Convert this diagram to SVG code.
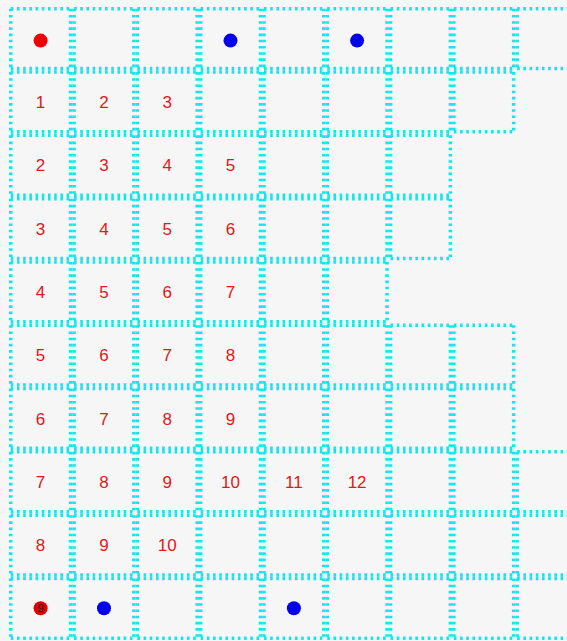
<svg xmlns="http://www.w3.org/2000/svg" xmlns:xlink="http://www.w3.org/1999/xlink" width="567" height="641" viewBox="0 0 567 641">
<style>
.cell{fill:none;stroke:#12e6ee;stroke-width:3.5;stroke-dasharray:2.6 3.6}
.num{font-family:"Liberation Sans",Arial,sans-serif;font-size:17px;fill:#e01818;text-anchor:middle}
.small{font-family:"Liberation Sans",Arial,sans-serif;font-size:11px;fill:#1a1a1a;text-anchor:middle}
</style>
<defs>
<path id="cell" class="cell" d="M1.75 1.75H61.55M1.75 61.55H61.55M1.75 1.75V61.55M61.55 1.75V61.55"/>
</defs>
<rect width="567" height="641" fill="#f6f6f6"/>
<g id="grid">
<g id="row0">
<use xlink:href="#cell" x="9" y="7"/><use xlink:href="#cell" x="72.3" y="7"/><use xlink:href="#cell" x="135.6" y="7"/><use xlink:href="#cell" x="198.9" y="7"/><use xlink:href="#cell" x="262.2" y="7"/><use xlink:href="#cell" x="325.5" y="7"/><use xlink:href="#cell" x="388.8" y="7"/><use xlink:href="#cell" x="452.1" y="7"/><use xlink:href="#cell" x="515.4" y="7"/>
</g>
<g id="row1">
<use xlink:href="#cell" x="9" y="70.3"/><use xlink:href="#cell" x="72.3" y="70.3"/><use xlink:href="#cell" x="135.6" y="70.3"/><use xlink:href="#cell" x="198.9" y="70.3"/><use xlink:href="#cell" x="262.2" y="70.3"/><use xlink:href="#cell" x="325.5" y="70.3"/><use xlink:href="#cell" x="388.8" y="70.3"/><use xlink:href="#cell" x="452.1" y="70.3"/>
</g>
<g id="row2">
<use xlink:href="#cell" x="9" y="133.6"/><use xlink:href="#cell" x="72.3" y="133.6"/><use xlink:href="#cell" x="135.6" y="133.6"/><use xlink:href="#cell" x="198.9" y="133.6"/><use xlink:href="#cell" x="262.2" y="133.6"/><use xlink:href="#cell" x="325.5" y="133.6"/><use xlink:href="#cell" x="388.8" y="133.6"/>
</g>
<g id="row3">
<use xlink:href="#cell" x="9" y="196.9"/><use xlink:href="#cell" x="72.3" y="196.9"/><use xlink:href="#cell" x="135.6" y="196.9"/><use xlink:href="#cell" x="198.9" y="196.9"/><use xlink:href="#cell" x="262.2" y="196.9"/><use xlink:href="#cell" x="325.5" y="196.9"/><use xlink:href="#cell" x="388.8" y="196.9"/>
</g>
<g id="row4">
<use xlink:href="#cell" x="9" y="260.2"/><use xlink:href="#cell" x="72.3" y="260.2"/><use xlink:href="#cell" x="135.6" y="260.2"/><use xlink:href="#cell" x="198.9" y="260.2"/><use xlink:href="#cell" x="262.2" y="260.2"/><use xlink:href="#cell" x="325.5" y="260.2"/>
</g>
<g id="row5">
<use xlink:href="#cell" x="9" y="323.5"/><use xlink:href="#cell" x="72.3" y="323.5"/><use xlink:href="#cell" x="135.6" y="323.5"/><use xlink:href="#cell" x="198.9" y="323.5"/><use xlink:href="#cell" x="262.2" y="323.5"/><use xlink:href="#cell" x="325.5" y="323.5"/><use xlink:href="#cell" x="388.8" y="323.5"/><use xlink:href="#cell" x="452.1" y="323.5"/>
</g>
<g id="row6">
<use xlink:href="#cell" x="9" y="386.8"/><use xlink:href="#cell" x="72.3" y="386.8"/><use xlink:href="#cell" x="135.6" y="386.8"/><use xlink:href="#cell" x="198.9" y="386.8"/><use xlink:href="#cell" x="262.2" y="386.8"/><use xlink:href="#cell" x="325.5" y="386.8"/><use xlink:href="#cell" x="388.8" y="386.8"/><use xlink:href="#cell" x="452.1" y="386.8"/>
</g>
<g id="row7">
<use xlink:href="#cell" x="9" y="450.1"/><use xlink:href="#cell" x="72.3" y="450.1"/><use xlink:href="#cell" x="135.6" y="450.1"/><use xlink:href="#cell" x="198.9" y="450.1"/><use xlink:href="#cell" x="262.2" y="450.1"/><use xlink:href="#cell" x="325.5" y="450.1"/><use xlink:href="#cell" x="388.8" y="450.1"/><use xlink:href="#cell" x="452.1" y="450.1"/><use xlink:href="#cell" x="515.4" y="450.1"/>
</g>
<g id="row8">
<use xlink:href="#cell" x="9" y="513.4"/><use xlink:href="#cell" x="72.3" y="513.4"/><use xlink:href="#cell" x="135.6" y="513.4"/><use xlink:href="#cell" x="198.9" y="513.4"/><use xlink:href="#cell" x="262.2" y="513.4"/><use xlink:href="#cell" x="325.5" y="513.4"/><use xlink:href="#cell" x="388.8" y="513.4"/><use xlink:href="#cell" x="452.1" y="513.4"/><use xlink:href="#cell" x="515.4" y="513.4"/>
</g>
<g id="row9">
<use xlink:href="#cell" x="9" y="576.7"/><use xlink:href="#cell" x="72.3" y="576.7"/><use xlink:href="#cell" x="135.6" y="576.7"/><use xlink:href="#cell" x="198.9" y="576.7"/><use xlink:href="#cell" x="262.2" y="576.7"/><use xlink:href="#cell" x="325.5" y="576.7"/><use xlink:href="#cell" x="388.8" y="576.7"/><use xlink:href="#cell" x="452.1" y="576.7"/><use xlink:href="#cell" x="515.4" y="576.7"/>
</g>
</g>
<g id="dots">
<circle cx="40.6" cy="40.6" r="7" fill="#f00000"/>
<circle cx="230.5" cy="40.6" r="7" fill="#0000ee"/>
<circle cx="357.1" cy="40.6" r="7" fill="#0000ee"/>
<circle cx="40.6" cy="608.3" r="7" fill="#e00000"/>
<text class="small" x="40.6" y="612">9</text>
<circle cx="104" cy="608.3" r="7" fill="#0000ee"/>
<circle cx="293.9" cy="608.3" r="7" fill="#0000ee"/>
</g>
<g id="numbers">
<text class="num" x="40.6" y="108">1</text><text class="num" x="104" y="108">2</text><text class="num" x="167.3" y="108">3</text>
<text class="num" x="40.6" y="171.3">2</text><text class="num" x="104" y="171.3">3</text><text class="num" x="167.3" y="171.3">4</text><text class="num" x="230.5" y="171.3">5</text>
<text class="num" x="40.6" y="234.6">3</text><text class="num" x="104" y="234.6">4</text><text class="num" x="167.3" y="234.6">5</text><text class="num" x="230.5" y="234.6">6</text>
<text class="num" x="40.6" y="297.9">4</text><text class="num" x="104" y="297.9">5</text><text class="num" x="167.3" y="297.9">6</text><text class="num" x="230.5" y="297.9">7</text>
<text class="num" x="40.6" y="361.2">5</text><text class="num" x="104" y="361.2">6</text><text class="num" x="167.3" y="361.2">7</text><text class="num" x="230.5" y="361.2">8</text>
<text class="num" x="40.6" y="424.5">6</text><text class="num" x="104" y="424.5">7</text><text class="num" x="167.3" y="424.5">8</text><text class="num" x="230.5" y="424.5">9</text>
<text class="num" x="40.6" y="487.8">7</text><text class="num" x="104" y="487.8">8</text><text class="num" x="167.3" y="487.8">9</text><text class="num" x="230.5" y="487.8">10</text><text class="num" x="293.9" y="487.8">11</text><text class="num" x="357.1" y="487.8">12</text>
<text class="num" x="40.6" y="551.1">8</text><text class="num" x="104" y="551.1">9</text><text class="num" x="167.3" y="551.1">10</text>
</g>
</svg>
